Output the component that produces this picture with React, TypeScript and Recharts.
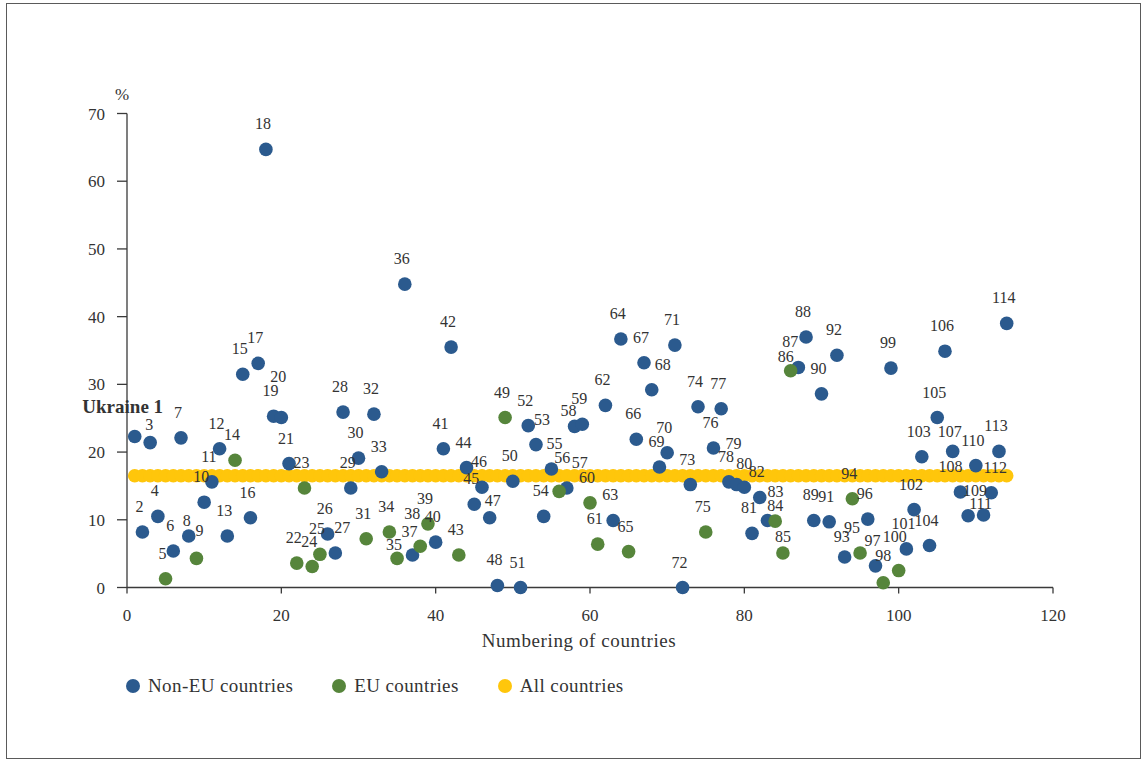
import React from 'react';
import { ScatterChart, Scatter, XAxis, YAxis, LabelList } from 'recharts';

const FONT = '"Liberation Serif", "Times New Roman", serif';
const TEXT = '#333333';
const AXIS = '#3a3a3a';

// Series colours
const BLUE = '#2b5a8e';
const GREEN = '#56853b';
const YELLOW = '#ffc60b';

// Countries outside the EU: country number and share, %
const nonEuNumbers = [
  1, 2, 3, 4, 6, 7, 8, 10, 11, 12, 13, 15, 16, 17, 18, 19, 20, 21, 26, 27, 28, 29, 30, 32, 33,
  36, 37, 40, 41, 42, 44, 45, 46, 47, 48, 50, 51, 52, 53, 54, 55, 57, 58, 59, 62, 63, 64, 66,
  67, 68, 69, 70, 71, 72, 73, 74, 76, 77, 78, 79, 80, 81, 82, 83, 87, 88, 89, 90, 91, 92, 93,
  96, 97, 99, 101, 102, 103, 104, 105, 106, 107, 108, 109, 110, 111, 112, 113, 114,
];
const nonEuShares = [
  22.3, 8.2, 21.4, 10.5, 5.4, 22.1, 7.6, 12.6, 15.6, 20.5, 7.6, 31.5, 10.3, 33.1, 64.7, 25.3,
  25.1, 18.3, 7.9, 5.1, 25.9, 14.7, 19.1, 25.6, 17.1, 44.8, 4.8, 6.7, 20.5, 35.5, 17.7, 12.3,
  14.8, 10.3, 0.3, 15.7, 0, 23.9, 21.1, 10.5, 17.5, 14.7, 23.8, 24.1, 26.9, 9.9, 36.7, 21.9,
  33.2, 29.2, 17.8, 19.9, 35.8, 0, 15.2, 26.7, 20.6, 26.4, 15.6, 15.2, 14.8, 8.0, 13.3, 9.9,
  32.5, 37.0, 9.9, 28.6, 9.7, 34.3, 4.5, 10.1, 3.2, 32.4, 5.7, 11.5, 19.3, 6.2, 25.1, 34.9,
  20.1, 14.1, 10.6, 18.0, 10.7, 14.0, 20.1, 39.0,
];

// EU member states: country number and share, %
const euNumbers = [
  5, 9, 14, 22, 23, 24, 25, 31, 34, 35, 38, 39, 43, 49, 56, 60, 61, 65, 75, 84, 85, 86, 94, 95,
  98, 100,
];
const euShares = [
  1.3, 4.3, 18.8, 3.6, 14.7, 3.1, 4.9, 7.2, 8.2, 4.3, 6.1, 9.4, 4.8, 25.1, 14.2, 12.5, 6.4, 5.3,
  8.2, 9.8, 5.1, 32.0, 13.1, 5.1, 0.7, 2.5,
];

// Average over all countries, repeated at every country number
const allCountriesShare = 16.5;
const countryTotal = 114;

const xTicks = [0, 20, 40, 60, 80, 100, 120];
const yTicks = [0, 10, 20, 30, 40, 50, 60, 70];

const legendItems = [
  { name: 'Non-EU countries', color: BLUE },
  { name: 'EU countries', color: GREEN },
  { name: 'All countries', color: YELLOW },
];

// Hand nudges (dx, dy in px) for number labels in crowded spots
const labelNudge: Record<number, [number, number]> = {
  3: [2, 7], 8: [1, 10], 9: [6, -2], 20: [0, -16], 27: [10, 0], 35: [0, 12], 37: [0, 2],
  38: [-5, -7], 47: [6, 8], 53: [9, 0], 55: [6, 0], 56: [6, -8], 57: [16, 0], 58: [-3, 10],
  68: [14, 0], 79: [0, -16], 80: [3, 2], 83: [11, -3], 84: [3, 10], 85: [3, 9], 86: [-2, 11],
  87: [-5, 0], 93: [0, 5], 95: [-5, 0], 98: [3, -2], 100: [-1, -9], 107: [0, 6], 108: [-7, 0],
  109: [10, 0], 111: [0, 14], 112: [7, 0],
};

const toPoints = (numbers: number[], shares: number[]) =>
  numbers.map((no, i) => ({ no, share: shares[i] }));

const nonEuData = toPoints(nonEuNumbers, nonEuShares);
const euData = toPoints(euNumbers, euShares);
const allData = Array.from({ length: countryTotal }, (_, i) => ({
  no: i + 1,
  share: allCountriesShare,
}));

const dot = (color: string) => (props: any) =>
  <circle cx={props.cx} cy={props.cy} r={6.8} fill={color} />;

// Country number written above each dot; Ukraine gets its name in bold
const NumberLabel = (props: any) => {
  const vb = props.viewBox ?? props;
  const cx = vb.x + vb.width / 2;
  const cy = vb.y + vb.height / 2;
  if (props.value === 1) {
    return (
      <text x={cx - 12} y={cy - 23} textAnchor="middle" fontSize={19} fontWeight="bold"
        fill={TEXT} fontFamily={FONT}>
        Ukraine 1
      </text>
    );
  }
  const [dx, dy] = labelNudge[props.value] ?? [0, 0];
  return (
    <text x={cx - 3 + dx} y={cy - 20 + dy} textAnchor="middle" fontSize={16} fill={TEXT}
      fontFamily={FONT}>
      {props.value}
    </text>
  );
};

const PercentLabel = (props: any) => {
  const vb = props.viewBox;
  return (
    <text x={vb.x + vb.width - 5} y={vb.y - 14} textAnchor="middle" fontSize={17} fill={TEXT}
      fontFamily={FONT}>
      %
    </text>
  );
};

export default function App() {
  return (
    <div style={{ position: 'absolute', left: 0, top: 0, width: 1142, height: 759, background: '#fff' }}>
      <div
        style={{
          position: 'absolute', left: 6, top: 3, width: 1135, height: 756,
          boxSizing: 'border-box', border: '1.5px solid #5a5a5a',
        }}
      />
      <div style={{ position: 'absolute', left: 0, top: 0 }}>
        <ScatterChart width={1142} height={759} margin={{ top: 113.5, right: 89, bottom: 141.5, left: 67 }}>
          <XAxis
            type="number"
            dataKey="no"
            domain={[0, 120]}
            ticks={xTicks}
            height={30}
            tickSize={6}
            tickMargin={15}
            axisLine={{ stroke: AXIS, strokeWidth: 1.3 }}
            tickLine={{ stroke: AXIS, strokeWidth: 1.3 }}
            tick={{ fontSize: 17, fill: TEXT, fontFamily: FONT }}
            label={{
              value: 'Numbering of countries', position: 'bottom', offset: 16, dx: -11,
              fontSize: 19, fill: TEXT, fontFamily: FONT, letterSpacing: 0.6,
            }}
          />
          <YAxis
            type="number"
            dataKey="share"
            domain={[0, 70]}
            ticks={yTicks}
            width={60}
            tickSize={10}
            tickMargin={12}
            axisLine={{ stroke: AXIS, strokeWidth: 1.3 }}
            tickLine={{ stroke: AXIS, strokeWidth: 1.3 }}
            tick={{ fontSize: 17, fill: TEXT, fontFamily: FONT }}
            label={{ content: PercentLabel }}
          />
          <Scatter name="All countries" data={allData} shape={dot(YELLOW)} isAnimationActive={false} />
          <Scatter name="Non-EU countries" data={nonEuData} shape={dot(BLUE)} isAnimationActive={false}>
            <LabelList dataKey="no" content={NumberLabel} />
          </Scatter>
          <Scatter name="EU countries" data={euData} shape={dot(GREEN)} isAnimationActive={false}>
            <LabelList dataKey="no" content={NumberLabel} />
          </Scatter>
        </ScatterChart>
      </div>
      <div
        style={{
          position: 'absolute', left: 126, top: 674, display: 'flex', alignItems: 'center',
          gap: 39, fontFamily: FONT, fontSize: 19, letterSpacing: 0.4, color: TEXT, lineHeight: '24px',
        }}
      >
        {legendItems.map((item) => (
          <div key={item.name} style={{ display: 'flex', alignItems: 'center', gap: 8 }}>
            <span style={{ width: 14, height: 14, borderRadius: '50%', background: item.color, display: 'inline-block' }} />
            <span>{item.name}</span>
          </div>
        ))}
      </div>
    </div>
  );
}
